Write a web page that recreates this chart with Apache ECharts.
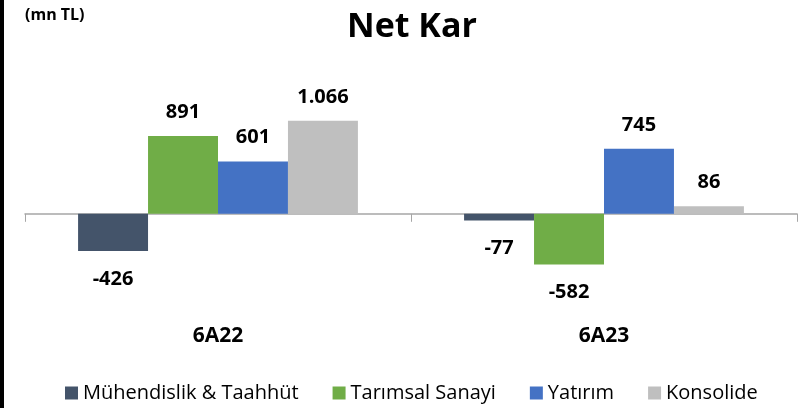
<!DOCTYPE html>
<html>
<head>
<meta charset="utf-8">
<script src="https://cdn.jsdelivr.net/npm/echarts@6/dist/echarts.min.js"></script>
<style>
  html, body { margin: 0; padding: 0; background: #fff; }
  #chart { width: 805px; height: 408px; }
</style>
</head>
<body>
<div id="chart"></div>
<script>
// veriler
var categories = ['6A22', '6A23'];
var seriesNames = ['Mühendislik & Taahhüt', 'Tarımsal Sanayi', 'Yatırım', 'Konsolide'];
var muhendislik = [-426, -77];
var tarimsal = [891, -582];
var yatirim = [601, 745];
var konsolide = [1066, 86];
var colors = ['#44546A', '#70AD47', '#4472C4', '#BFBFBF'];

var FONT = '"Open Sans", "Noto Sans", sans-serif';

// 1.066 gibi nokta ile binlik ayırma
function fmt(v) {
    var s = String(Math.abs(v)).replace(/\B(?=(\d{3})+(?!\d))/g, '.');
    return (v < 0 ? '-' : '') + s;
}

function buildData(values) {
    return values.map(function (v) {
        return {
            value: v,
            label: v < 0 ? { position: 'bottom', distance: 18 } : { position: 'top', distance: 14 }
        };
    });
}

var allValues = [muhendislik, tarimsal, yatirim, konsolide];

var myChart = echarts.init(document.getElementById('chart'));
var option = {
    animation: false,
    color: colors,
    title: [{
        text: 'Net Kar',
        left: 342,
        top: 5,
        textStyle: { fontFamily: FONT, fontWeight: 'bold', fontSize: 34, color: '#000' }
    }, {
        text: '(mn TL)',
        left: 20,
        top: 2,
        textStyle: { fontFamily: FONT, fontWeight: 'bold', fontSize: 16, color: '#000' }
    }],
    legend: {
        bottom: 0,
        left: 60,
        itemWidth: 13,
        itemHeight: 13,
        itemGap: 34,
        icon: 'rect',
        textStyle: { fontFamily: FONT, fontSize: 20, color: '#000' },
        data: seriesNames
    },
    grid: { left: 25, right: 8, top: 83, height: 218, outerBoundsMode: 'none', containLabel: false },
    xAxis: {
        type: 'category',
        data: categories,
        axisLine: { onZero: true, lineStyle: { color: '#a6a6a6', width: 1.5 } },
        axisTick: { show: true, length: 8, lineStyle: { color: '#a6a6a6' } },
        axisLabel: {
            margin: 25,
            fontFamily: FONT, fontWeight: 'bold', fontSize: 21, color: '#000'
        }
    },
    yAxis: {
        type: 'value',
        min: -1000,
        max: 1500,
        show: false,
        splitLine: { show: false }
    },
    series: seriesNames.map(function (name, i) {
        return {
            name: name,
            type: 'bar',
            barGap: '0%',
            barCategoryGap: '27.5%',
            data: buildData(allValues[i]),
            label: {
                show: true,
                formatter: function (p) { return fmt(p.value); },
                fontFamily: FONT, fontWeight: 'bold', fontSize: 20, color: '#000'
            }
        };
    }),
    graphic: [{
        type: 'rect',
        shape: { x: 0, y: 0, width: 4, height: 408 },
        style: { fill: '#000' }
    }]
};
myChart.setOption(option);
</script>
</body>
</html>
